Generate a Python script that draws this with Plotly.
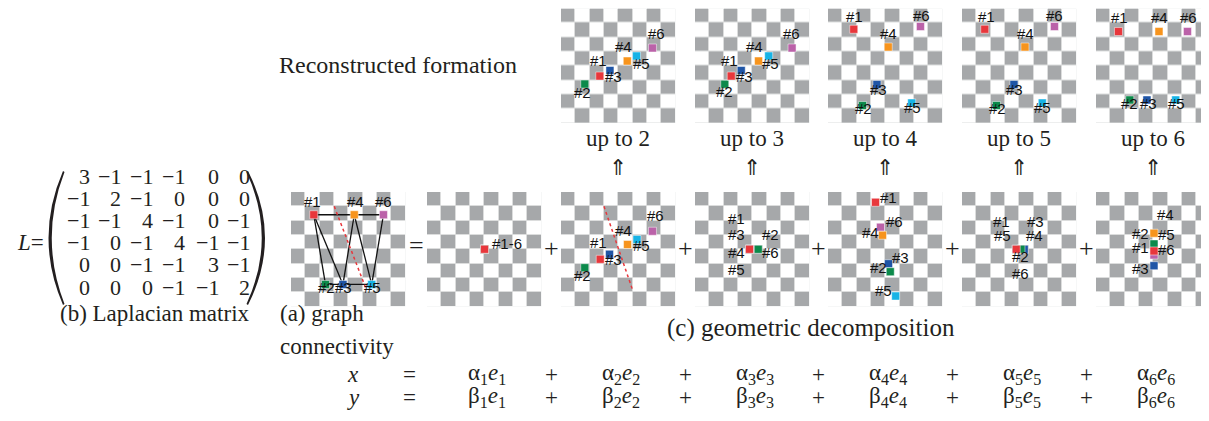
import plotly.graph_objects as go

W, H = 1209, 421
S = 114.5  # board side in px (8 x 8 cells)

SERIF = "Liberation Serif, Times New Roman, serif"
SANS = "Liberation Sans, Arial, sans-serif"
INK = "#231f20"

node_names = ["#1", "#2", "#3", "#4", "#5", "#6"]
node_colors = ["#e8373c", "#0c8a4b", "#1f55a6", "#f7941d", "#17b3e6", "#bb62a9"]

# ---- node positions (board cell units, x right, y down) ----
conn_x = [1.59, 2.41, 3.63, 4.42, 5.64, 6.46]
conn_y = [1.59, 6.46, 6.46, 1.59, 6.46, 1.59]
conn_lx = [1.50, 2.48, 3.70, 4.51, 5.68, 6.48]
conn_ly = [1.07, 7.09, 7.09, 1.07, 7.09, 1.07]
edges = [(1, 2), (1, 3), (1, 4), (2, 3), (3, 4), (3, 5), (4, 5), (4, 6), (5, 6)]
conn_cut_x = [3.02, 5.28]
conn_cut_y = [1.00, 6.86]

comp1_x = [4.02, 4.02, 4.02, 4.02, 4.02, 4.02]
comp1_y = [4.0, 4.0, 4.0, 4.0, 4.0, 4.0]

comp2_x = [2.74, 1.66, 3.39, 4.65, 5.31, 6.39]
comp2_y = [4.70, 5.29, 4.35, 3.67, 3.32, 2.74]
comp2_lx = [2.60, 1.47, 3.65, 4.35, 5.64, 6.62]
comp2_ly = [3.93, 6.22, 5.15, 3.11, 4.16, 2.06]
comp2_cut_x = [3.00, 5.03]
comp2_cut_y = [1.00, 6.93]

comp3_x = [3.81, 4.42, 3.81, 3.81, 3.81, 4.42]
comp3_y = [4.0, 4.0, 4.0, 4.0, 4.0, 4.0]
comp3_lx = [2.93, 5.28, 2.93, 2.93, 2.93, 5.28]
comp3_ly = [2.29, 3.42, 3.42, 4.63, 5.80, 4.63]

comp4_x = [3.32, 4.35, 4.23, 3.81, 4.73, 3.67]
comp4_y = [0.72, 5.57, 5.01, 3.02, 7.27, 2.46]
comp4_lx = [4.21, 3.55, 5.10, 2.99, 3.91, 4.63]
comp4_ly = [0.77, 5.68, 4.98, 3.23, 7.28, 2.46]

comp5_x = [3.79, 4.12, 4.35, 4.35, 3.79, 4.12]
comp5_y = [4.0, 4.0, 4.0, 4.0, 4.0, 4.0]
comp5_lx = [2.76, 4.07, 5.14, 5.10, 2.81, 4.07]
comp5_ly = [2.46, 4.93, 2.46, 3.46, 3.46, 6.11]

comp6_x = [4.05, 4.05, 4.05, 4.05, 4.05, 4.05]
comp6_y = [4.12, 3.63, 5.15, 2.88, 3.63, 4.40]
comp6_lx = [3.14, 3.14, 3.14, 4.89, 4.93, 4.93]
comp6_ly = [4.28, 3.35, 5.73, 1.99, 3.39, 4.44]

up2_x = [2.71, 1.66, 3.42, 4.63, 5.28, 6.39]
up2_y = [4.72, 5.28, 4.33, 3.67, 3.32, 2.76]
up2_lx = [2.60, 1.47, 3.65, 4.37, 5.59, 6.64]
up2_ly = [4.07, 6.29, 5.19, 3.04, 4.26, 2.20]

up3_x = [2.53, 2.08, 3.23, 4.44, 5.15, 6.78]
up3_y = [4.72, 5.29, 4.33, 3.67, 3.32, 2.76]
up3_lx = [2.43, 2.08, 3.49, 4.19, 5.28, 6.76]
up3_ly = [4.07, 6.20, 5.19, 3.04, 4.26, 2.20]

up4_x = [1.80, 2.41, 3.42, 4.21, 5.85, 6.46]
up4_y = [1.45, 6.78, 5.31, 2.69, 6.60, 1.26]
up4_lx = [1.87, 2.46, 3.51, 4.26, 5.90, 6.50]
up4_ly = [0.95, 7.42, 6.06, 2.20, 7.37, 0.88]

up5_x = [1.59, 2.41, 3.63, 4.40, 5.61, 6.46]
up5_y = [1.45, 6.78, 5.31, 2.69, 6.60, 1.26]
up5_lx = [1.71, 2.48, 3.70, 4.44, 5.61, 6.46]
up5_ly = [0.95, 7.42, 6.06, 2.20, 7.37, 0.88]

up6_x = [1.57, 2.36, 3.56, 4.40, 5.57, 6.39]
up6_y = [1.61, 6.39, 6.39, 1.61, 6.39, 1.61]
up6_lx = [1.66, 2.36, 3.65, 4.47, 5.59, 6.46]
up6_ly = [1.05, 7.07, 7.07, 1.05, 7.07, 1.05]

up_labels = ["up to 2", "up to 3", "up to 4", "up to 5", "up to 6"]

L_matrix = [
    [3, -1, -1, -1, 0, 0],
    [-1, 2, -1, 0, 0, 0],
    [-1, -1, 4, -1, 0, -1],
    [-1, 0, -1, 4, -1, -1],
    [0, 0, -1, -1, 3, -1],
    [0, 0, 0, -1, -1, 2],
]
eq_x_terms = ["α<sub>%d</sub><i>e</i><sub>%d</sub>" % (i, i) for i in range(1, 7)]
eq_y_terms = ["β<sub>%d</sub><i>e</i><sub>%d</sub>" % (i, i) for i in range(1, 7)]

# ---- layout of boards (pixel placement) ----
TOP_Y0, MID_Y0 = 0.5, 184.0
top_x0 = [553, 687, 820, 954, 1088]
mid_x0 = [283, 419, 553, 687, 820, 954, 1088]

boards = [
    dict(x0=mid_x0[0], y0=MID_Y0, nx=conn_x, ny=conn_y, lx=conn_lx, ly=conn_ly, edges=True, cut=(conn_cut_x, conn_cut_y)),
    dict(x0=mid_x0[1], y0=MID_Y0, nx=comp1_x, ny=comp1_y, single="#1-6"),
    dict(x0=mid_x0[2], y0=MID_Y0, nx=comp2_x, ny=comp2_y, lx=comp2_lx, ly=comp2_ly, cut=(comp2_cut_x, comp2_cut_y)),
    dict(x0=mid_x0[3], y0=MID_Y0, nx=comp3_x, ny=comp3_y, lx=comp3_lx, ly=comp3_ly),
    dict(x0=mid_x0[4], y0=MID_Y0, nx=comp4_x, ny=comp4_y, lx=comp4_lx, ly=comp4_ly),
    dict(x0=mid_x0[5], y0=MID_Y0, nx=comp5_x, ny=comp5_y, lx=comp5_lx, ly=comp5_ly),
    dict(x0=mid_x0[6], y0=MID_Y0, nx=comp6_x, ny=comp6_y, lx=comp6_lx, ly=comp6_ly),
    dict(x0=top_x0[0], y0=TOP_Y0, nx=up2_x, ny=up2_y, lx=up2_lx, ly=up2_ly),
    dict(x0=top_x0[1], y0=TOP_Y0, nx=up3_x, ny=up3_y, lx=up3_lx, ly=up3_ly),
    dict(x0=top_x0[2], y0=TOP_Y0, nx=up4_x, ny=up4_y, lx=up4_lx, ly=up4_ly),
    dict(x0=top_x0[3], y0=TOP_Y0, nx=up5_x, ny=up5_y, lx=up5_lx, ly=up5_ly),
    dict(x0=top_x0[4], y0=TOP_Y0, nx=up6_x, ny=up6_y, lx=up6_lx, ly=up6_ly),
]

fig = go.Figure()
annotations = []
shapes = []
axes = {}

# overlay axis in pixel coordinates (whole canvas)
axes["xaxis"] = dict(domain=[0, 1], range=[0, W], visible=False, fixedrange=True)
axes["yaxis"] = dict(domain=[0, 1], range=[H, 0], visible=False, fixedrange=True)
fig.add_trace(go.Scatter(x=[0], y=[0], mode="markers", marker=dict(opacity=0),
                         hoverinfo="skip", xaxis="x", yaxis="y"))

checker = [[1 if (r + c) % 2 == 0 else 0 for c in range(8)] for r in range(8)]
centers = [i + 0.5 for i in range(8)]
LABEL_FONT = dict(family=SANS, size=15, color="#111111")

for i, b in enumerate(boards):
    k = i + 2
    xa, ya = "x%d" % k, "y%d" % k
    axes["xaxis%d" % k] = dict(domain=[b["x0"] / W, (b["x0"] + S) / W], range=[0, 8],
                               visible=False, fixedrange=True, anchor=ya)
    axes["yaxis%d" % k] = dict(domain=[1 - (b["y0"] + S) / H, 1 - b["y0"] / H], range=[8, 0],
                               visible=False, fixedrange=True, anchor=xa)
    shapes.append(dict(type="rect", xref=xa, yref=ya, x0=0, x1=8, y0=0, y1=8,
                       fillcolor="#dcdddd", line=dict(width=0), layer="below"))
    fig.add_trace(go.Heatmap(z=checker, x=centers, y=centers, xaxis=xa, yaxis=ya,
                             colorscale=[[0, "#ffffff"], [1, "#a6a8aa"]], zmin=0, zmax=1,
                             showscale=False, xgap=1, ygap=1, hoverinfo="skip"))
    if b.get("edges"):
        ex, ey = [], []
        for a, c in edges:
            ex += [b["nx"][a - 1], b["nx"][c - 1], None]
            ey += [b["ny"][a - 1], b["ny"][c - 1], None]
        fig.add_trace(go.Scatter(x=ex, y=ey, mode="lines", line=dict(color="#111111", width=1.3),
                                 xaxis=xa, yaxis=ya, hoverinfo="skip"))
    if b.get("cut"):
        cx, cy = b["cut"]
        fig.add_trace(go.Scatter(x=cx, y=cy, mode="lines",
                                 line=dict(color="#e8373c", width=1.5, dash="dot"),
                                 xaxis=xa, yaxis=ya, hoverinfo="skip"))
    fig.add_trace(go.Scatter(x=b["nx"][::-1], y=b["ny"][::-1], mode="markers",
                             marker=dict(symbol="square", size=8, color=node_colors[::-1],
                                         line=dict(width=0.6, color="rgba(255,255,255,0.8)")),
                             xaxis=xa, yaxis=ya, hoverinfo="skip"))
    if b.get("single"):
        annotations.append(dict(x=4.42, y=4.0, xref=xa, yref=ya, text=b["single"], showarrow=False,
                                xanchor="left", yanchor="middle", yshift=6, font=LABEL_FONT))
    else:
        for n, lx, ly in zip(node_names, b["lx"], b["ly"]):
            annotations.append(dict(x=lx, y=ly, xref=xa, yref=ya, text=n, showarrow=False,
                                    xanchor="center", yanchor="middle", yshift=6, font=LABEL_FONT))


def txt(x, y, s, size=23, family=SERIF, xanchor="center", yshift=8):
    annotations.append(dict(x=x, y=y, xref="x", yref="y", text=s, showarrow=False,
                            xanchor=xanchor, yanchor="middle", yshift=yshift,
                            font=dict(family=family, size=size, color=INK)))


# titles over the top row
txt(390, 65, "Reconstructed formation", size=24)
for lab, x0 in zip(up_labels, top_x0):
    txt(x0 + S / 2, 138, lab)
    txt(x0 + S / 2, 163, "⇑", size=22, family="DejaVu Sans", yshift=4)

# operators between boards
txt(408, 243, "=", size=26, yshift=6)
for i in range(1, 6):
    xm = (mid_x0[i] + S + mid_x0[i + 1]) / 2
    txt(xm, 246, "+", size=26, yshift=6)

# Laplacian matrix
txt(38, 242, "<i>L</i>=", xanchor="right")
col_r = [84, 115, 147, 179, 213, 244]
for r, row in enumerate(L_matrix):
    for c, v in enumerate(row):
        s = ("−%d" % -v) if v < 0 else str(v)
        txt(col_r[c], 176 + 22.2 * r, s, size=22, xanchor="right")
shapes.append(dict(type="path", xref="x", yref="y",
                   path="M 55,163 Q 26,230 55,297 L 56.5,296 Q 31,230 56.5,164 Z",
                   fillcolor=INK, line=dict(width=0)))
shapes.append(dict(type="path", xref="x", yref="y",
                   path="M 240,163 Q 274,230 240,297 L 238.5,296 Q 269,230 238.5,164 Z",
                   fillcolor=INK, line=dict(width=0)))
txt(147, 313, "(b) Laplacian matrix")

# captions
txt(270, 313, "(a) graph", xanchor="left")
txt(270, 346, "connectivity", xanchor="left")
txt(803, 328, "(c) geometric decomposition", size=25)

# equations
comp_centers = [x0 + S / 2 for x0 in mid_x0[1:]]
for row_y, var, terms in [(374, "<i>x</i>", eq_x_terms), (397, "<i>y</i>", eq_y_terms)]:
    txt(345, row_y, var)
    txt(401, row_y, "=")
    for i, t in enumerate(terms):
        txt(comp_centers[i] + 3, row_y, t)
        if i < 5:
            txt((mid_x0[i + 1] + S + mid_x0[i + 2]) / 2, row_y, "+")

fig.update_layout(
    width=W, height=H, margin=dict(l=0, r=0, t=0, b=0),
    paper_bgcolor="white", plot_bgcolor="rgba(0,0,0,0)",
    showlegend=False, annotations=annotations, shapes=shapes, **axes,
)
fig.write_html("out.html")
